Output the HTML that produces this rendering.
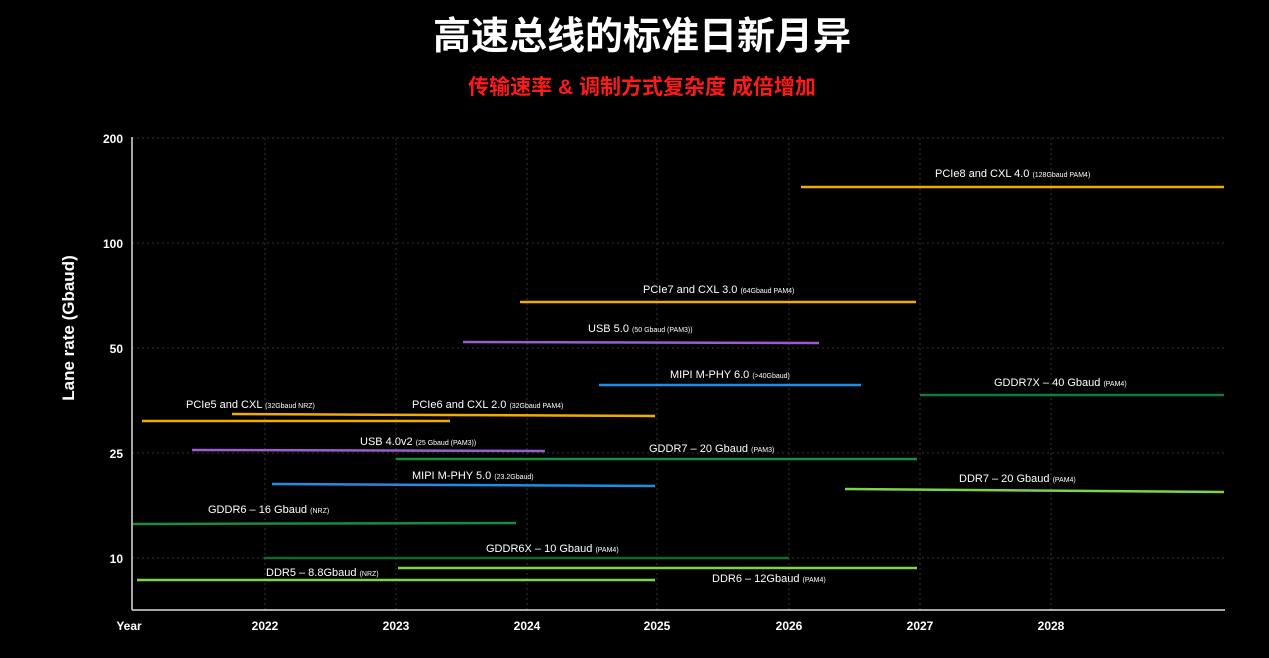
<!DOCTYPE html>
<html><head><meta charset="utf-8"><style>
body{margin:0;background:#000;width:1269px;height:658px;overflow:hidden}
svg{display:block}
text{font-family:"Liberation Sans","Noto Sans CJK SC",sans-serif;fill:#fff}
.l{font-size:11px}
.s{font-size:7px}
.t{font-size:12px;font-weight:bold}
</style></head><body>
<svg width="1269" height="658" viewBox="0 0 1269 658">
<text x="642" y="49" text-anchor="middle" style="font-size:38px;font-weight:bold">高速总线的标准日新月异</text>
<text x="642" y="94" text-anchor="middle" style="font-size:21px;font-weight:bold;fill:#ff1a1a">传输速率 &amp; 调制方式复杂度 成倍增加</text>
<g stroke="#333" stroke-dasharray="2,3" stroke-width="1">
<line x1="132" y1="138" x2="1225" y2="138"/><line x1="132" y1="243" x2="1225" y2="243"/><line x1="132" y1="348" x2="1225" y2="348"/><line x1="132" y1="453" x2="1225" y2="453"/><line x1="132" y1="558" x2="1225" y2="558"/>
<line x1="265" y1="138" x2="265" y2="610"/><line x1="396" y1="138" x2="396" y2="610"/><line x1="527" y1="138" x2="527" y2="610"/><line x1="657" y1="138" x2="657" y2="610"/><line x1="789" y1="138" x2="789" y2="610"/><line x1="920" y1="138" x2="920" y2="610"/><line x1="1051" y1="138" x2="1051" y2="610"/>
</g>
<line x1="132" y1="137" x2="132" y2="610" stroke="#ddd" stroke-width="1.5"/>
<line x1="132" y1="610" x2="1225" y2="610" stroke="#ddd" stroke-width="1.5"/>
<g class="t" text-anchor="end">
<text x="123" y="143" class="t">200</text><text x="123" y="248" class="t">100</text><text x="123" y="353" class="t">50</text><text x="123" y="458" class="t">25</text><text x="123" y="563" class="t">10</text>
</g>
<g text-anchor="middle">
<text x="129" y="630" class="t">Year</text><text x="265" y="630" class="t">2022</text><text x="396" y="630" class="t">2023</text><text x="527" y="630" class="t">2024</text><text x="657" y="630" class="t">2025</text><text x="789" y="630" class="t">2026</text><text x="920" y="630" class="t">2027</text><text x="1051" y="630" class="t">2028</text>
</g>
<text transform="translate(74,328) rotate(-90)" text-anchor="middle" style="font-size:17px;font-weight:bold">Lane rate (Gbaud)</text>
<g stroke-width="2.5" fill="none">
<line x1="801" y1="187" x2="1224" y2="187" stroke="#f2ac00"/>
<line x1="520" y1="302" x2="916" y2="302" stroke="#f2ac00"/>
<line x1="463" y1="342" x2="819" y2="343" stroke="#9a5ccf"/>
<line x1="599" y1="385" x2="861" y2="385" stroke="#1d8ee6"/>
<line x1="920" y1="395" x2="1224" y2="395" stroke="#157a35"/>
<line x1="142" y1="421" x2="450" y2="421" stroke="#f2ac00"/>
<line x1="232" y1="414" x2="655" y2="416" stroke="#f2ac00"/>
<line x1="192" y1="450" x2="545" y2="451" stroke="#9a5ccf"/>
<line x1="396" y1="459" x2="917" y2="459" stroke="#1a8c3a"/>
<line x1="845" y1="489" x2="1224" y2="492" stroke="#7fd34a"/>
<line x1="272" y1="484" x2="655" y2="486" stroke="#1d8ee6"/>
<line x1="133" y1="524" x2="516" y2="523" stroke="#1a8c3a"/>
<line x1="264" y1="558" x2="789" y2="558" stroke="#0f6a2a"/>
<line x1="398" y1="568" x2="917" y2="568" stroke="#7fd34a"/>
<line x1="137" y1="580" x2="655" y2="580" stroke="#7fd34a"/>
</g>
<text x="935" y="177" class="l">PCIe8 and CXL 4.0 <tspan class="s">(128Gbaud PAM4)</tspan></text>
<text x="643" y="293" class="l">PCIe7 and CXL 3.0 <tspan class="s">(64Gbaud PAM4)</tspan></text>
<text x="588" y="332" class="l">USB 5.0 <tspan class="s">(50 Gbaud (PAM3))</tspan></text>
<text x="670" y="378" class="l">MIPI M-PHY 6.0 <tspan class="s">(&gt;40Gbaud)</tspan></text>
<text x="994" y="386" class="l">GDDR7X – 40 Gbaud <tspan class="s">(PAM4)</tspan></text>
<text x="186" y="408" class="l">PCIe5 and CXL <tspan class="s">(32Gbaud NRZ)</tspan></text>
<text x="412" y="408" class="l">PCIe6 and CXL 2.0 <tspan class="s">(32Gbaud PAM4)</tspan></text>
<text x="360" y="445" class="l">USB 4.0v2 <tspan class="s">(25 Gbaud (PAM3))</tspan></text>
<text x="649" y="452" class="l">GDDR7 – 20 Gbaud <tspan class="s">(PAM3)</tspan></text>
<text x="959" y="482" class="l">DDR7 – 20 Gbaud <tspan class="s">(PAM4)</tspan></text>
<text x="412" y="479" class="l">MIPI M-PHY 5.0 <tspan class="s">(23.2Gbaud)</tspan></text>
<text x="208" y="513" class="l">GDDR6 – 16 Gbaud <tspan class="s">(NRZ)</tspan></text>
<text x="486" y="552" class="l">GDDR6X – 10 Gbaud <tspan class="s">(PAM4)</tspan></text>
<text x="712" y="582" class="l">DDR6 – 12Gbaud <tspan class="s">(PAM4)</tspan></text>
<text x="266" y="576" class="l">DDR5 – 8.8Gbaud <tspan class="s">(NRZ)</tspan></text>
</svg>
</body></html>
